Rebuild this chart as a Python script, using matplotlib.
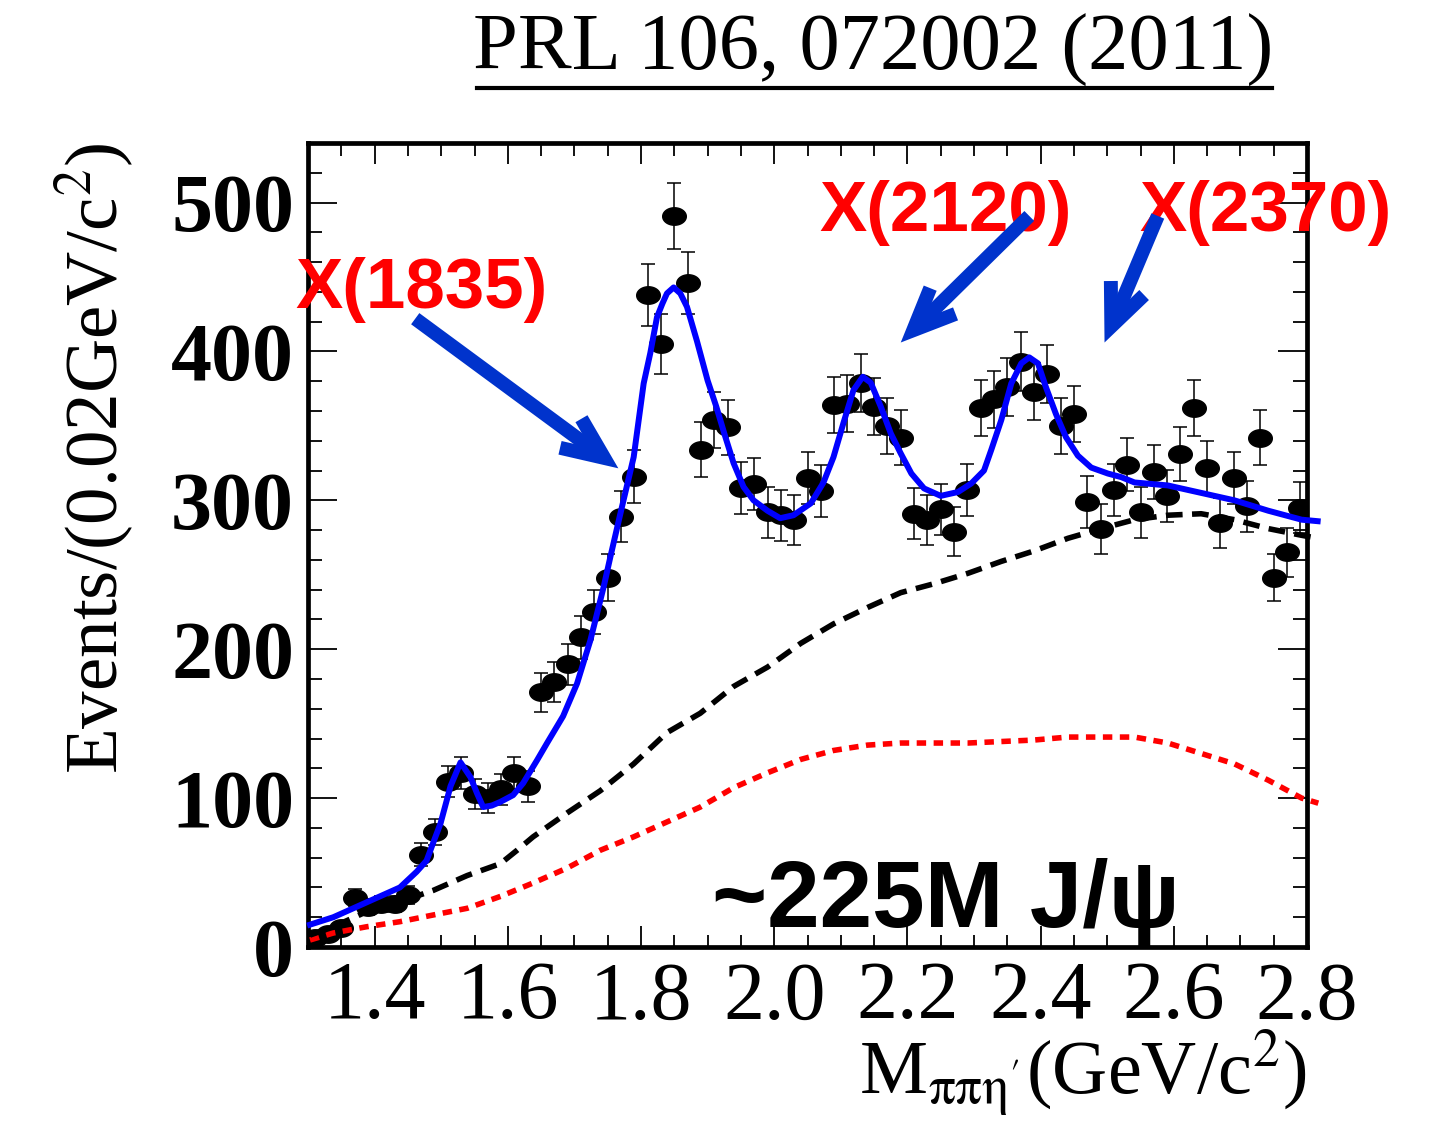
import numpy as np
import matplotlib
matplotlib.use("Agg")
import matplotlib.pyplot as plt
from matplotlib.path import Path
from matplotlib.patches import ArrowStyle
from matplotlib.lines import Line2D
from matplotlib.ticker import MultipleLocator

plt.rcParams['mathtext.fontset'] = 'stix'

# ---------------- data ----------------
mass = np.round(np.arange(1.31, 2.80, 0.02), 2)   # bin centres (GeV/c^2)
counts = [6, 9, 13, 33, 27, 29, 29, 35, 62, 77,
          111, 117, 103, 100, 106, 117, 108, 171, 178, 190,
          208, 225, 248, 289, 316, 438, 405, 491, 446, 334,
          354, 349, 308, 311, 292, 290, 287, 315, 306, 364,
          365, 379, 363, 350, 342, 291, 287, 294, 279, 307,
          362, 368, 376, 393, 373, 385, 350, 358, 299, 281,
          307, 324, 292, 319, 303, 331, 362, 322, 285, 315,
          296, 342, 248, 265, 295]
errors = [2.4, 3.0, 3.6, 5.7, 5.2, 5.4, 5.4, 5.9, 7.9, 8.8,
          10.5, 10.8, 10.1, 10.0, 10.3, 10.8, 10.4, 13.1, 13.3, 13.8,
          14.4, 15.0, 15.7, 17.0, 17.8, 20.9, 20.1, 22.2, 21.1, 18.3,
          18.8, 18.7, 17.5, 17.6, 17.1, 17.0, 16.9, 17.7, 17.5, 19.1,
          19.1, 19.5, 19.1, 18.7, 18.5, 17.1, 16.9, 17.1, 16.7, 17.5,
          19.0, 19.2, 19.4, 19.8, 19.3, 19.6, 18.7, 18.9, 17.3, 16.8,
          17.5, 18.0, 17.1, 17.9, 17.4, 18.2, 19.0, 17.9, 16.9, 17.7,
          17.2, 18.5, 15.7, 16.3, 17.2]

fit_x = [1.303, 1.338, 1.388, 1.438, 1.463, 1.478, 1.488, 1.499, 1.514, 1.529,
         1.544, 1.554, 1.563, 1.576, 1.589, 1.608, 1.623, 1.644, 1.659, 1.683,
         1.704, 1.724, 1.744, 1.754, 1.769, 1.789, 1.804, 1.814, 1.824, 1.832,
         1.839, 1.849, 1.859, 1.869, 1.884, 1.900, 1.913, 1.925, 1.939, 1.954,
         1.969, 1.990, 2.009, 2.029, 2.055, 2.074, 2.089, 2.104, 2.119, 2.133,
         2.145, 2.160, 2.175, 2.190, 2.206, 2.225, 2.250, 2.276, 2.296, 2.315,
         2.326, 2.341, 2.356, 2.371, 2.383, 2.396, 2.408, 2.423, 2.438, 2.456,
         2.476, 2.501, 2.521, 2.541, 2.591, 2.641, 2.691, 2.742, 2.792, 2.816]
fit_y = [15, 20, 30, 40, 50.5, 58, 70, 83, 108, 124,
         114, 103, 94, 95, 97.5, 102, 110, 125.5, 137, 155,
         177, 206, 242, 262, 291, 329, 378.5, 399, 423, 432,
         439, 443, 439, 430, 407, 380.5, 363, 345, 325, 309,
         300, 293, 288, 290, 298, 312, 329, 352, 374, 383,
         379, 363, 345, 331.5, 318, 308, 303, 305.6, 311.4, 320,
         334, 354, 378.5, 392, 396, 392, 376, 358, 342.5, 330,
         322, 318, 315.6, 312, 310, 305, 300, 293, 287, 286]

bkg_x = [1.303, 1.338, 1.388, 1.438, 1.488, 1.539, 1.589, 1.614, 1.638, 1.689,
         1.739, 1.789, 1.839, 1.889, 1.939, 1.990, 2.040, 2.089, 2.140, 2.190,
         2.240, 2.291, 2.341, 2.390, 2.441, 2.491, 2.541, 2.591, 2.641, 2.691,
         2.742, 2.792, 2.816]
bkg_y = [8, 13.6, 23.7, 30.4, 38, 48, 56, 65, 74, 90,
         105, 123, 144, 157, 175, 188, 204, 217, 228, 238,
         244, 251, 259, 266, 274.5, 281, 287, 290, 291, 287,
         281, 276.5, 274.5]

nr_x = [1.303, 1.338, 1.388, 1.438, 1.488, 1.539, 1.589, 1.638, 1.689, 1.739,
        1.789, 1.839, 1.889, 1.939, 1.990, 2.040, 2.089, 2.140, 2.190, 2.291,
        2.390, 2.441, 2.541, 2.591, 2.641, 2.691, 2.742, 2.792, 2.817]
nr_y = [4.7, 9.4, 13.6, 17, 21.5, 26, 34, 43, 53, 65,
        74, 84, 94, 107, 117, 126, 132, 135.6, 137, 137,
        139, 141, 141, 137, 130, 123, 112, 100, 96.6]

x_ticks = [1.4, 1.6, 1.8, 2.0, 2.2, 2.4, 2.6, 2.8]
x_ticklabels = ["1.4", "1.6", "1.8", "2.0", "2.2", "2.4", "2.6", "2.8"]
y_ticks = [0, 100, 200, 300, 400, 500]
y_ticklabels = ["0", "100", "200", "300", "400", "500"]

labels = ["X(1835)", "X(2120)", "X(2370)"]
label_x = [1.470, 2.258, 2.737]
label_y = [429, 481, 481]
arrow_tail = [(1.461, 422), (2.383, 491), (2.576, 491)]
arrow_tip = [(1.766, 321.5), (2.190, 406), (2.496, 406)]

# ---------------- figure ----------------
W, H = 1434, 1123
fig = plt.figure(figsize=(W / 100, H / 100), dpi=100)
ax = fig.add_axes([308 / W, 1 - 947 / H, 999 / W, 804 / H])
ax.set_xlim(1.3, 2.8)
ax.set_ylim(0, 540)

# ellipse marker
t = np.linspace(0, 2 * np.pi, 60)
ell = Path(np.column_stack([np.cos(t), 0.74 * np.sin(t)]), closed=True)

ax.errorbar(mass, counts, yerr=errors, fmt='none', ecolor='black',
            elinewidth=1.1, capsize=5, capthick=1.1, zorder=2)
ax.plot(mass, counts, linestyle='none', marker=ell, markersize=17,
        color='black', zorder=3)

ax.plot(nr_x, nr_y, color='red', lw=4.0, linestyle=(0, (1.7, 1.35)),
        clip_on=False, zorder=4)
ax.plot(bkg_x, bkg_y, color='black', lw=4.0, linestyle=(0, (3.0, 1.7)),
        clip_on=False, zorder=4)
ax.plot(fit_x, fit_y, color='#0000ff', lw=4.3, clip_on=False, zorder=5,
        solid_joinstyle='round')

# ticks
serif = ['Liberation Serif', 'DejaVu Serif']
ax.set_xticks(x_ticks)
ax.set_xticklabels(x_ticklabels, family=serif, fontsize=59)
ax.set_yticks(y_ticks)
ax.set_yticklabels(y_ticklabels, family=serif, fontsize=59, fontweight='bold')
ax.xaxis.set_minor_locator(MultipleLocator(0.05))
ax.yaxis.set_minor_locator(MultipleLocator(20))
ax.tick_params(axis='both', which='both', direction='in', top=True, right=True,
               width=1.3, color='black')
ax.tick_params(axis='x', which='major', length=15, pad=10)
ax.tick_params(axis='x', which='minor', length=9)
ax.tick_params(axis='y', which='major', length=21, pad=10)
ax.tick_params(axis='y', which='minor', length=10)
for sp in ax.spines.values():
    sp.set_linewidth(3.4)

# axis labels
ax.set_xlabel(r"M$_{\mathrm{\pi\pi\eta}'}$(GeV/c$^{2}$)", family=serif, fontsize=55,
              loc='right', va='baseline')
ax.xaxis.set_label_coords(1.0, (947 - 1094) / 804)
ax.set_ylabel(r"Events/(0.02GeV/c$^{2}$)", family=serif, fontsize=54, loc='top')
ax.yaxis.set_label_coords((136 - 308) / 999, 1.0)

# title with underline
fig.text(873 / W, 1 - 70 / H, "PRL 106, 072002 (2011)", family=serif,
         fontsize=58, ha='center', va='baseline')
fig.add_artist(Line2D([477 / W, 1272 / W], [1 - 88 / H, 1 - 88 / H],
                      color='black', lw=3, transform=fig.transFigure))

# annotations
sans = ['Liberation Sans', 'DejaVu Sans']
for lab, lx, ly in zip(labels, label_x, label_y):
    ax.text(lx, ly, lab, color='#ff0000', family=sans, fontweight='bold',
            fontsize=51, ha='center', va='baseline', zorder=6)
for tail, tip in zip(arrow_tail, arrow_tip):
    ax.annotate("", xy=tip, xytext=tail, annotation_clip=False,
                arrowprops=dict(arrowstyle=ArrowStyle('->', head_length=30, head_width=13),
                                mutation_scale=1, color='#0033cc', lw=10,
                                shrinkA=0, shrinkB=0, capstyle='butt', joinstyle='miter'),
                zorder=6)

ax.text(2.258, 13.4, "~225M J/ψ", family=sans, fontweight='bold', fontsize=68,
        ha='center', va='baseline', color='black', zorder=6)

fig.savefig("out.png", dpi=100)
